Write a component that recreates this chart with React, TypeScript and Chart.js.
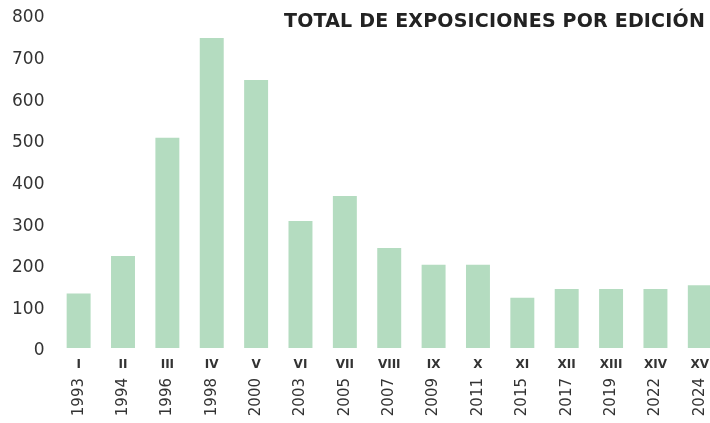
import React, { useEffect, useRef } from "react";
import { Chart, registerables } from "chart.js";

Chart.register(...registerables);

const editions = ["I", "II", "III", "IV", "V", "VI", "VII", "VIII", "IX", "X", "XI", "XII", "XIII", "XIV", "XV"];
const years = ["1993", "1994", "1996", "1998", "2000", "2003", "2005", "2007", "2009", "2011", "2015", "2017", "2019", "2022", "2024"];
const exposiciones = [131, 221, 505, 745, 644, 305, 365, 240, 200, 200, 121, 142, 142, 142, 151];
const yTicks = [0, 100, 200, 300, 400, 500, 600, 700, 800];

const TITLE = "TOTAL DE EXPOSICIONES POR EDICIÓN";
const BAR_COLOR = "#b4dcc0";
const TEXT_COLOR = "#333333";
const FONT = "'DejaVu Sans', sans-serif";

export default function App() {
  const canvasRef = useRef<HTMLCanvasElement | null>(null);

  useEffect(() => {
    const canvas = canvasRef.current;
    if (!canvas) return;
    const chart = new Chart(canvas, {
      type: "bar",
      data: {
        labels: editions,
        datasets: [
          {
            data: exposiciones,
            backgroundColor: BAR_COLOR,
            borderWidth: 0,
            categoryPercentage: 0.54,
            barPercentage: 1,
          },
        ],
      },
      options: {
        animation: false,
        responsive: false,
        maintainAspectRatio: false,
        layout: { padding: { top: 15, right: 8, bottom: 0, left: 0 } },
        plugins: {
          legend: { display: false },
          tooltip: { enabled: false },
          title: { display: false },
        },
        scales: {
          x: {
            type: "category",
            position: "bottom",
            grid: { display: false, drawTicks: false },
            border: { display: false },
            ticks: {
              color: TEXT_COLOR,
              font: { family: FONT, size: 12, weight: "bold" },
              padding: 10,
              maxRotation: 0,
              minRotation: 0,
              autoSkip: false,
            },
            afterFit: (scale: any) => {
              scale.height = 26;
            },
          },
          x2: {
            type: "category",
            position: "bottom",
            labels: years,
            grid: { display: false, drawTicks: false },
            border: { display: false },
            ticks: {
              color: TEXT_COLOR,
              font: { family: FONT, size: 15 },
              padding: 4,
              maxRotation: 90,
              minRotation: 90,
              autoSkip: false,
            },
            afterFit: (scale: any) => {
              scale.height = 49;
            },
          },
          y: {
            min: 0,
            max: 800,
            grid: { display: false, drawTicks: false },
            border: { display: false },
            afterBuildTicks: (scale: any) => {
              scale.ticks = yTicks.map((v) => ({ value: v }));
            },
            afterFit: (scale: any) => {
              scale.paddingTop = 0;
              scale.paddingBottom = 0;
            },
            ticks: {
              color: TEXT_COLOR,
              font: { family: FONT, size: 17 },
              padding: 12,
              labelOffset: 3,
            },
          },
        },
      },
    });
    return () => chart.destroy();
  }, []);

  return (
    <div
      style={{
        position: "fixed",
        left: 0,
        top: 0,
        width: 710,
        height: 423,
        overflow: "hidden",
        background: "#ffffff",
      }}
    >
      <canvas ref={canvasRef} width={730} height={423} style={{ position: "absolute", left: 0, top: 0 }} />
      <div
        style={{
          position: "absolute",
          right: 5,
          top: 8,
          fontFamily: FONT,
          fontWeight: "bold",
          fontSize: 19,
          letterSpacing: "0.2px",
          color: "#222222",
          whiteSpace: "nowrap",
          lineHeight: "24px",
        }}
      >
        {TITLE}
      </div>
    </div>
  );
}
